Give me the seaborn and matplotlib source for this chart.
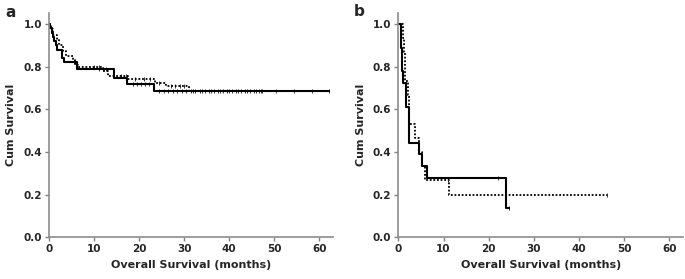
import numpy as np
import pandas as pd
import matplotlib
matplotlib.use('Agg')
import matplotlib.pyplot as plt
import seaborn as sns

# panel a - step curves (time of change, survival after change)
a_solid_t = [0, 0.3, 0.6, 0.9, 1.2, 1.5, 1.8, 2.9, 3.3, 6.3, 14.4, 17.4, 23.4, 62.2]
a_solid_s = [1.0, 0.98, 0.96, 0.94, 0.92, 0.90, 0.88, 0.84, 0.82, 0.787, 0.745, 0.719, 0.686, 0.686]
a_solid_cens = [11.2, 12.0, 12.7, 18.6, 19.5, 20.4, 21.3, 22.2, 24.5, 25.5, 26.5, 27.5, 28.5, 29.5,
                30.5, 31.5, 32.5, 33.5, 34.5, 35.5, 36.5, 37.5, 38.5, 39.5, 40.5, 41.5, 42.5,
                43.5, 44.5, 45.5, 46.5, 47.0, 50.4, 54.4, 58.3, 62.2]

a_dot_t = [0, 0.5, 1.0, 1.7, 2.3, 3.0, 3.7, 5.3, 5.8, 6.5, 12.0, 13.0, 17.5, 23.5, 26.0, 31.0, 47.3]
a_dot_s = [1.0, 0.975, 0.95, 0.925, 0.90, 0.875, 0.85, 0.83, 0.81, 0.797, 0.78, 0.756, 0.742,
           0.725, 0.71, 0.686, 0.686]
a_dot_cens = [10.0, 11.0, 16.0, 17.0, 19.0, 21.0, 22.5, 24.5, 27.0, 28.0, 29.0, 30.0, 32.0,
              34.0, 36.0, 38.0, 40.0, 42.0, 44.0, 46.0, 47.3]

# panel b
b_solid_t = [0, 0.5, 0.65, 0.8, 0.9, 1.0, 1.7, 2.4, 4.6, 5.3, 6.3, 23.8, 24.5]
b_solid_s = [1.0, 0.944, 0.889, 0.833, 0.778, 0.722, 0.611, 0.444, 0.389, 0.333, 0.278, 0.139, 0.139]
b_solid_cens = [22.0, 24.5]

b_dot_t = [0, 1.0, 1.25, 1.4, 1.55, 2.1, 2.3, 3.75, 4.6, 5.3, 5.9, 11.3, 46.1]
b_dot_s = [1.0, 0.933, 0.867, 0.8, 0.733, 0.667, 0.533, 0.467, 0.4, 0.333, 0.267, 0.2, 0.2]
b_dot_cens = [11.0, 46.1]

xticks = [0, 10, 20, 30, 40, 50, 60]
yticks = [0.0, 0.2, 0.4, 0.6, 0.8, 1.0]

sns.set_style('ticks')
plt.rcParams['font.family'] = ['DejaVu Sans']
plt.rcParams['font.weight'] = 'bold'

fig = plt.figure(figsize=(6.85, 2.79), dpi=100)
ax_a = fig.add_axes([0.0715, 0.1495, 0.4146, 0.805])
ax_b = fig.add_axes([0.5815, 0.1495, 0.4156, 0.805])


def step_value(t_list, s_list, t):
    i = np.searchsorted(t_list, t, side='right') - 1
    return s_list[max(i, 0)]


def draw_curve(ax, t_list, s_list, cens, style, lw):
    df = pd.DataFrame({'t': t_list, 's': s_list})
    sns.lineplot(data=df, x='t', y='s', ax=ax, drawstyle='steps-post', color='black',
                 linestyle=style, linewidth=lw, estimator=None, sort=False)
    cdf = pd.DataFrame({'t': cens, 's': [step_value(t_list, s_list, c) for c in cens]})
    sns.scatterplot(data=cdf, x='t', y='s', ax=ax, marker='|', s=9, color='#333333',
                    linewidth=0.7)


draw_curve(ax_a, a_dot_t, a_dot_s, a_dot_cens, (0, (1, 1)), 1.3)
draw_curve(ax_a, a_solid_t, a_solid_s, a_solid_cens, '-', 1.5)
draw_curve(ax_b, b_dot_t, b_dot_s, b_dot_cens, (0, (1, 1)), 1.3)
draw_curve(ax_b, b_solid_t, b_solid_s, b_solid_cens, '-', 1.5)

for ax, letter in [(ax_a, 'a'), (ax_b, 'b')]:
    ax.set_xlim(0, 63)
    ax.set_ylim(0, 1.053)
    ax.set_xticks(xticks)
    ax.set_yticks(yticks)
    ax.set_yticklabels([f'{v:.1f}' for v in yticks])
    ax.set_xlabel('Overall Survival (months)', fontsize=8, fontweight='bold')
    ax.set_ylabel('Cum Survival', fontsize=8, fontweight='bold', labelpad=5)
    ax.tick_params(labelsize=7.5, length=3, width=1, color='#808080', pad=2)
    for lab in ax.get_xticklabels() + ax.get_yticklabels():
        lab.set_fontweight('bold')
    for side in ['top', 'right']:
        ax.spines[side].set_visible(False)
    for side in ['left', 'bottom']:
        ax.spines[side].set_color('#8c8c8c')
        ax.spines[side].set_linewidth(1.2)

fig.text(0.008, 0.955, 'a', fontsize=11, fontweight='bold', va='center')
fig.text(0.517, 0.96, 'b', fontsize=11, fontweight='bold', va='center')

fig.savefig('out.png', dpi=100)
